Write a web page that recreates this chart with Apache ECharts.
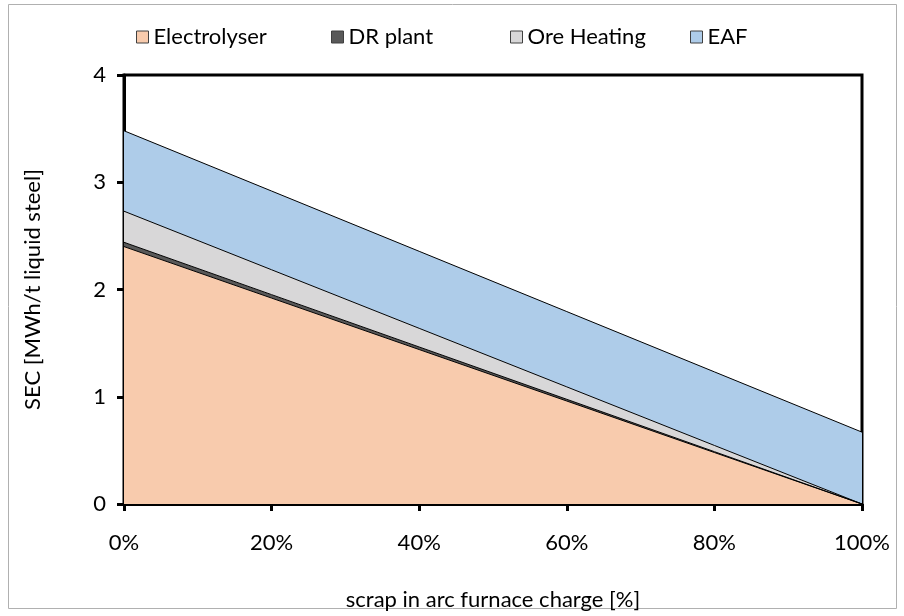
<!DOCTYPE html>
<html>
<head>
<meta charset="utf-8">
<script src="https://cdn.jsdelivr.net/npm/echarts@6/dist/echarts.min.js"></script>
<style>
  html, body { margin: 0; padding: 0; background: #fff; }
  #chart { width: 904px; height: 616px; }
</style>
</head>
<body>
<div id="chart"></div>
<script>
// values
var scrapShare = ['0%', '20%', '40%', '60%', '80%', '100%'];
var electrolyser = [2.40, 1.92, 1.44, 0.96, 0.48, 0];
var drPlant = [0.04, 0.032, 0.024, 0.016, 0.008, 0];
var oreHeating = [0.29, 0.232, 0.174, 0.116, 0.058, 0];
var eaf = [0.75, 0.734, 0.718, 0.702, 0.686, 0.67];
var yTicks = [0, 1, 2, 3, 4];

var font = 'Lato, "Open Sans", sans-serif';

var chart = echarts.init(document.getElementById('chart'));

function band(name, data, color) {
    return {
        name: name,
        type: 'line',
        stack: 'total',
        data: data,
        symbol: 'none',
        lineStyle: { color: '#000', width: 1 },
        itemStyle: { color: color, borderColor: '#404040', borderWidth: 1 },
        areaStyle: { color: color, opacity: 1 }
    };
}

function legendAt(name, left) {
    return {
        left: left,
        top: 21,
        data: [{ name: name, icon: 'rect', itemStyle: { borderColor: '#404040', borderWidth: 1 } }],
        itemWidth: 12,
        itemHeight: 12,
        itemGap: 3,
        textStyle: { fontFamily: font, fontSize: 22, color: '#000' }
    };
}

var option = {
    backgroundColor: '#fff',
    animation: false,
    graphic: [{
        type: 'rect',
        shape: { x: 8.5, y: 4.5, width: 888, height: 604 },
        style: { fill: 'none', stroke: '#b0b0b0', lineWidth: 1 },
        silent: true
    }],
    legend: [
        legendAt('Electrolyser', 131),
        legendAt('DR plant', 326),
        legendAt('Ore Heating', 505),
        legendAt('EAF', 685)
    ],
    grid: {
        left: 124, right: 42, top: 75, bottom: 112,
        show: true, borderColor: '#000', borderWidth: 3
    },
    xAxis: {
        type: 'category',
        data: scrapShare,
        boundaryGap: false,
        name: 'scrap in arc furnace charge [%]',
        nameLocation: 'middle',
        nameGap: 85,
        nameTextStyle: { fontFamily: font, fontSize: 22, color: '#000' },
        axisLine: { lineStyle: { color: '#000', width: 3 } },
        axisTick: { show: true, length: 7, lineStyle: { color: '#000', width: 3 } },
        axisLabel: { fontFamily: font, fontSize: 22, color: '#000', margin: 28 },
        splitLine: { show: false }
    },
    yAxis: {
        type: 'value',
        min: yTicks[0],
        max: yTicks[yTicks.length - 1],
        interval: 1,
        name: 'SEC [MWh/t liquid steel]',
        nameLocation: 'middle',
        nameGap: 80,
        nameTextStyle: { fontFamily: font, fontSize: 22, color: '#000' },
        axisLine: { show: true, lineStyle: { color: '#000', width: 3 } },
        axisTick: { show: true, length: 7, lineStyle: { color: '#000', width: 3 } },
        axisLabel: { fontFamily: font, fontSize: 22, color: '#000', margin: 18 },
        splitLine: { show: false }
    },
    series: [
        band('Electrolyser', electrolyser, '#F8CBAD'),
        band('DR plant', drPlant, '#595959'),
        band('Ore Heating', oreHeating, '#D8D7D8'),
        band('EAF', eaf, '#AECCE9')
    ]
};

chart.setOption(option);
</script>
</body>
</html>
